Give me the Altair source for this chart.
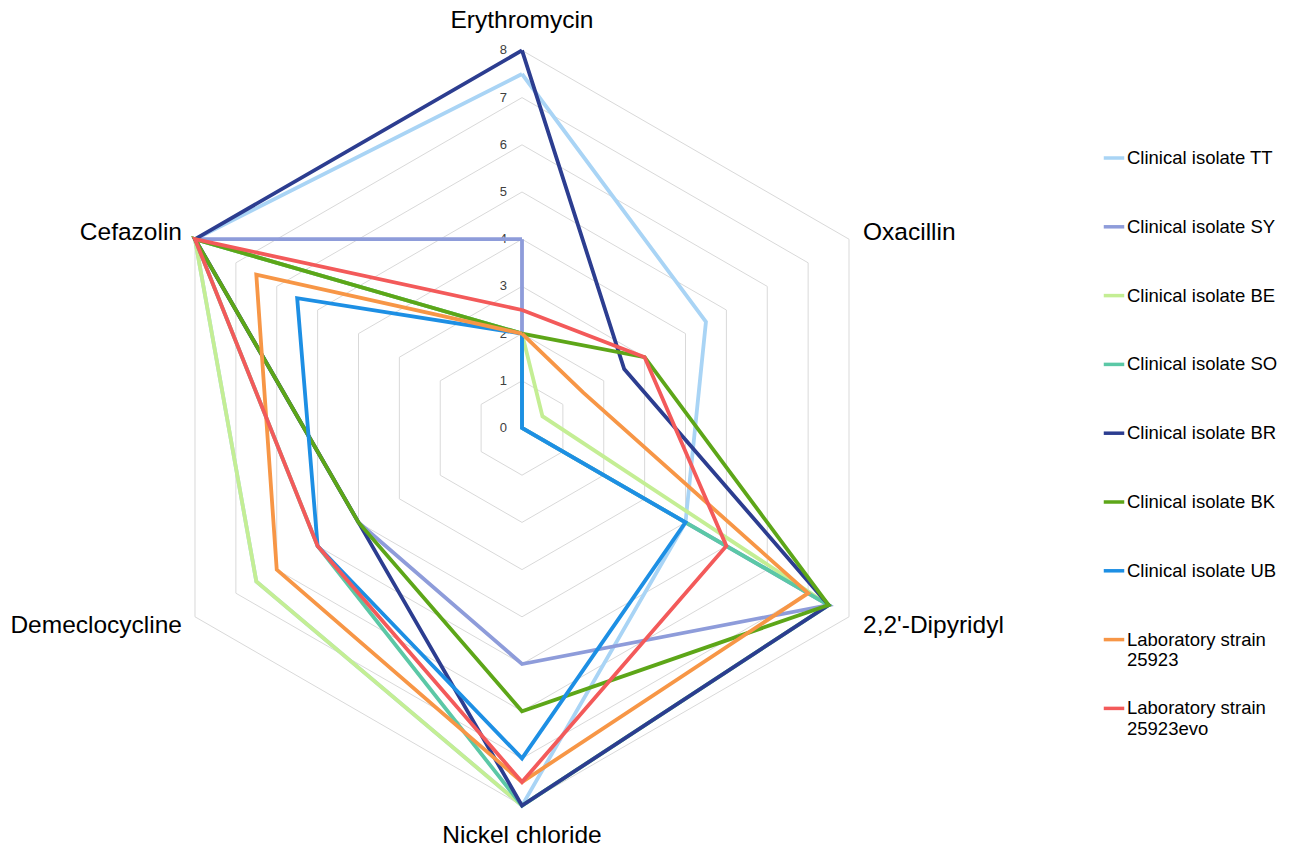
import altair as alt
import pandas as pd

categories = ["Erythromycin", "Oxacillin", "2,2'-Dipyridyl", "Nickel chloride", "Demeclocycline", "Cefazolin"]
series = [
    "Clinical isolate TT", "Clinical isolate SY", "Clinical isolate BE", "Clinical isolate SO",
    "Clinical isolate BR", "Clinical isolate BK", "Clinical isolate UB",
    "Laboratory strain 25923", "Laboratory strain 25923evo",
]
# values in category order: Erythromycin, Oxacillin, Dipyridyl, Nickel chloride, Demeclocycline, Cefazolin
v_tt = [7.5, 4.5, 4.0, 8.0, 6.5, 8.0]
v_sy = [4.0, 0.0, 7.5, 5.0, 4.0, 8.0]
v_be = [2.0, 0.5, 7.5, 8.0, 6.5, 8.0]
v_so = [2.0, 0.0, 7.5, 8.0, 5.0, 8.0]
v_br = [8.0, 2.5, 7.5, 8.0, 4.0, 8.0]
v_bk = [2.0, 3.0, 7.5, 6.0, 4.0, 8.0]
v_ub = [2.0, 0.0, 4.0, 7.0, 5.0, 5.5]
v_lab = [2.0, 1.5, 7.0, 7.5, 6.0, 6.5]
v_evo = [2.5, 3.0, 5.0, 7.5, 5.0, 8.0]
all_values = [v_tt, v_sy, v_be, v_so, v_br, v_bk, v_ub, v_lab, v_evo]
colors = ["#a9d4f5", "#8e9cda", "#c4ee94", "#5bc8a6", "#2c3d90", "#5da618", "#1d8fe4", "#f79646", "#f35a5a"]
tick_levels = [0, 1, 2, 3, 4, 5, 6, 7, 8]
max_level = 8

rows = []
for s, vals in zip(series, all_values):
    for i in range(len(categories) + 1):
        rows.append({"series": s, "idx": i, "value": vals[i % len(categories)]})
df = pd.DataFrame(rows)

grid_rows = []
for lv in tick_levels[1:]:
    for i in range(len(categories) + 1):
        grid_rows.append({"level": lv, "idx": i})
grid_df = pd.DataFrame(grid_rows)

cat_df = pd.DataFrame({"cat": categories, "idx": list(range(len(categories))), "value": [max_level] * len(categories)})
tick_df = pd.DataFrame({"level": tick_levels})

unit = 47.2
cx, cy = 522, 428
W, H = 1307, 847
xscale = alt.Scale(domain=[-cx / unit, (W - cx) / unit], zero=False, nice=False)
yscale = alt.Scale(domain=[-(H - cy) / unit, cy / unit], zero=False, nice=False)

ang = "PI/2 - datum.idx*PI/3"
calc = dict(px=f"datum.value*cos({ang})", py=f"datum.value*sin({ang})")

grid = alt.Chart(grid_df).transform_calculate(
    px=f"datum.level*cos({ang})", py=f"datum.level*sin({ang})"
).mark_line(color="#d9d9d9", strokeWidth=1).encode(
    x=alt.X("px:Q", scale=xscale, axis=None),
    y=alt.Y("py:Q", scale=yscale, axis=None),
    detail="level:N",
    order="idx:Q",
)

ticks = alt.Chart(tick_df).transform_calculate(px="0", py="datum.level").mark_text(
    align="right", baseline="middle", dx=-15, fontSize=13, font="Liberation Sans", color="#404040"
).encode(
    x=alt.X("px:Q", scale=xscale, axis=None),
    y=alt.Y("py:Q", scale=yscale, axis=None),
    text="level:Q",
)

label_specs = [
    ("Erythromycin", "center", 0, -22),
    ("Oxacillin", "left", 14, 1),
    ("2,2'-Dipyridyl", "left", 14, 16),
    ("Nickel chloride", "center", 0, 37),
    ("Demeclocycline", "right", -13, 16),
    ("Cefazolin", "right", -13, 1),
]
label_layers = []
for name, al, dx, dy in label_specs:
    label_layers.append(
        alt.Chart(cat_df).transform_filter(alt.datum.cat == name).transform_calculate(**calc).mark_text(
            align=al, baseline="alphabetic", dx=dx, dy=dy, fontSize=24.5, font="Liberation Sans", color="#000000"
        ).encode(
            x=alt.X("px:Q", scale=xscale, axis=None),
            y=alt.Y("py:Q", scale=yscale, axis=None),
            text="cat:N",
        )
    )

lines = alt.Chart(df).transform_calculate(**calc).mark_line(strokeWidth=3.8).encode(
    x=alt.X("px:Q", scale=xscale, axis=None),
    y=alt.Y("py:Q", scale=yscale, axis=None),
    color=alt.Color(
        "series:N",
        scale=alt.Scale(domain=series, range=colors),
        legend=alt.Legend(
            title=None,
            orient="none",
            legendX=1102,
            legendY=146,
            direction="vertical",
            symbolType="stroke",
            symbolSize=420,
            symbolStrokeWidth=3.5,
            labelFontSize=18.5,
            labelFont="Liberation Sans",
            labelColor="#000000",
            labelOffset=1,
            labelLimit=400,
            labelBaseline="middle",
            gridAlign="all",
            rowPadding=26.8,
            labelExpr="indexof(datum.label, 'Laboratory') == 0 ? [substring(datum.label, 0, 17), substring(datum.label, 18)] : datum.label",
        ),
    ),
    order="idx:Q",
)

chart = alt.layer(grid, ticks, *label_layers, lines).properties(
    width=W, height=H, autosize=alt.AutoSizeParams(type="none"), padding=0, background="white"
).configure_view(stroke=None)

chart.save("out.html", embed_options={"renderer": "svg", "actions": False})
